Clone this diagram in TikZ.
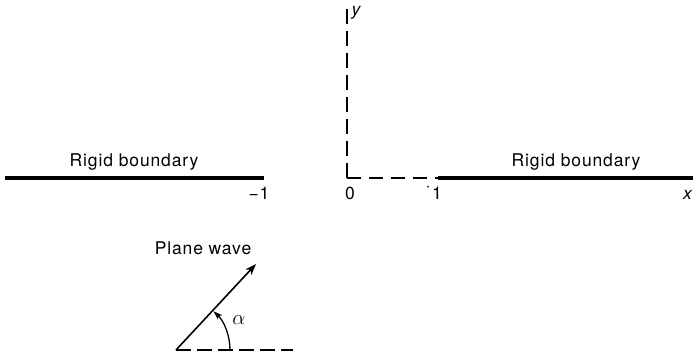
\documentclass[tikz,border=0pt]{standalone}
\usepackage{fontspec}
\setmainfont{TeX Gyre Heros}[LetterSpace=5]
\usetikzlibrary{arrows.meta}
\begin{document}
\begin{tikzpicture}[x=1pt,y=-1pt,
  lbl/.style={font=\fontsize{17.5}{20}\selectfont, inner sep=0pt},
  wall/.style={line width=3.6pt},
  axisdash/.style={line width=1.3pt, dash pattern=on 14pt off 8pt},
  wavearrow/.style={line width=1.6pt, -{Stealth[length=11pt,width=8pt,inset=3pt]}}]
\useasboundingbox (0,0) rectangle (693,355);
% coordinates
\coordinate (O) at (347,178);
\coordinate (ytop) at (347,6);
\coordinate (one) at (438,178);
\coordinate (lwallL) at (5,178);
\coordinate (lwallR) at (264,178);
\coordinate (rwallR) at (700,178);
\coordinate (W) at (176,350);
\coordinate (Wtip) at (256,264);
\coordinate (Wend) at (293,350);
% walls
\draw[wall] (lwallL) -- (lwallR);
\draw[wall] (one) -- (rwallR);
% axes
\draw[axisdash, dash pattern=on 15pt off 7pt] (O) -- (ytop);
\draw[axisdash] (O) -- (one);
\draw[line width=1.3pt] (O) -- ++(10,0);
% labels
\node[lbl] (lrb) at (134,162) {Rigid boundary};
\node[lbl] (rrb) at (576,162) {Rigid boundary};
\node[lbl] (m1) at (259,193) {\char"2212 1};
\node[lbl] (zero) at (350,193) {0};
\node[lbl] (onelbl) at (437,193) {1};
\node[lbl] (dot) at (428,189) {·};
\node[lbl] (ylbl) at (356,13) {\itshape y};
\node[lbl, anchor=east] (xlbl) at (692,195) {\itshape x};
% plane wave
\draw[line width=1.5pt, dash pattern=on 15pt off 6pt] (W) -- (Wend);
\draw[wavearrow] (W) -- (Wtip);
\draw[line width=1.3pt, -{Stealth[length=9pt,width=6pt,inset=2pt]}] (W) ++(54,0) arc[start angle=0, end angle=-46, radius=54];
\node[lbl] (pw) at (203,248) {Plane wave};
\node[lbl, font=\fontsize{22}{24}\selectfont] (alpha) at (239,320) {$\alpha$};
\end{tikzpicture}
\end{document}
